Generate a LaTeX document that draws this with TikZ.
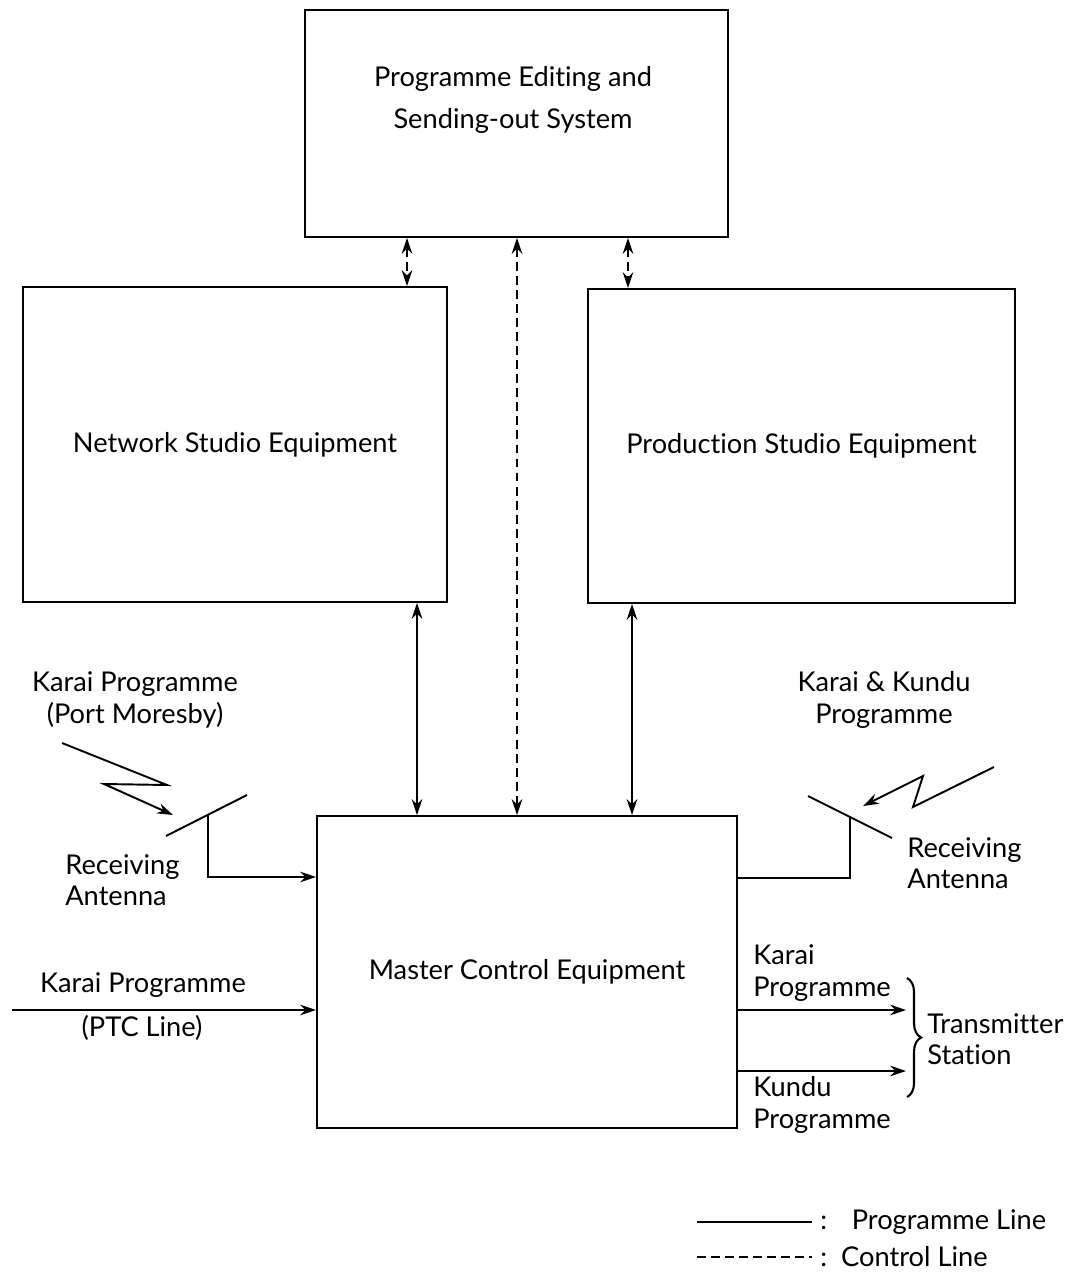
\documentclass[tikz,border=0pt]{standalone}
\usepackage{fontspec}
\setmainfont{Lato}[Ligatures=NoCommon]
\usetikzlibrary{positioning,calc,fit,arrows.meta,decorations.pathreplacing}

\tikzset{
  box/.style={draw, line width=1.1pt, inner sep=0pt},
  prog/.style={line width=1.1pt},
  ctrl/.style={line width=1.1pt, dash pattern=on 5pt off 3pt},
  tip/.style={-{Stealth[length=9pt,width=6pt]}},
  tips/.style={{Stealth[length=9pt,width=6pt]}-{Stealth[length=9pt,width=6pt]}},
  lbl/.style={font=\fontsize{15.5}{18}\selectfont, inner sep=0pt, align=center},
  lbll/.style={lbl, align=left, anchor=west}
}

\begin{document}
\begin{tikzpicture}[x=0.02cm, y=-0.02cm]
        \useasboundingbox (0,0) rectangle (1070,1283);

        \node[box, fit={(305,10) (728,237)}] (edit) {};
        \node[lbl] (edittxt) at (513,100) {Programme Editing and\\[6pt]Sending-out System};
        \node[box, fit={(23,287) (447,602)}] (net) {};
        \node[lbl] (nettxt) at (net) {Network Studio Equipment};
        \node[box, fit={(588,289) (1015,603)}] (prod) {};
        \node[lbl] (prodtxt) at (prod) {Production Studio Equipment};
        \node[box, fit={(317,816) (737,1128)}] (mce) {};
        \node[lbl] (mcetxt) at (mce) {Master Control Equipment};

        % control lines
        \coordinate (c1) at (407,0);
        \coordinate (c2) at (517,0);
        \coordinate (c3) at (628,0);
        \draw[ctrl, tips] (edit.south -| c1) -- (net.north -| c1);
        \draw[ctrl, tips] (edit.south -| c2) -- (mce.north -| c2);
        \draw[ctrl, tips] (edit.south -| c3) -- (prod.north -| c3);

        % programme lines
        \coordinate (p1) at (417,0);
        \coordinate (p2) at (632,0);
        \draw[prog, tips] (net.south -| p1) -- (mce.north -| p1);
        \draw[prog, tips] (prod.south -| p2) -- (mce.north -| p2);

        % left antenna
        \node[lbl] (portm) at (135,700) {Karai Programme\\(Port Moresby)};
        \coordinate (la1) at (166,836);
        \coordinate (la2) at (247,795);
        \coordinate (lfeed) at (208,815);
        \draw[prog] (la1) -- (la2);
        \draw[prog, tip] (lfeed) |- (mce.west |- 0,877);
        \draw[prog, tip] (62,743) -- (167,785) -- (104,784) -- (173,815);
        \node[lbll] (lrx) at (65,880) {Receiving\\Antenna};

        % right antenna
        \node[lbl] (kk) at (884,700) {Karai \& Kundu\\Programme};
        \coordinate (ra1) at (808,796);
        \coordinate (ra2) at (892,838);
        \coordinate (rfeed) at (850,817);
        \draw[prog] (ra1) -- (ra2);
        \draw[prog] (rfeed) |- (mce.east |- 0,878);
        \draw[prog, tip] (994,767) -- (913,807) -- (923,776) -- (863,806);
        \node[lbll] (rrx) at (907,863) {Receiving\\Antenna};

        % PTC line
        \coordinate (ptc) at (12,1010);
        \draw[prog, tip] (ptc) -- (mce.west |- ptc);
        \node[lbl] (ptc1) at (143,985) {Karai Programme};
        \node[lbl] (ptc2) at (142,1028) {(PTC Line)};

        % outputs
        \coordinate (o1) at (906,1010);
        \coordinate (o2) at (906,1071);
        \draw[prog, tip] (mce.east |- o1) -- (o1);
        \draw[prog, tip] (mce.east |- o2) -- (o2);
        \node[lbll] (kout) at (753,973) {Karai\\Programme};
        \node[lbll] (dout) at (753,1105) {Kundu\\Programme};
        \draw[line width=1.2pt, decorate, decoration={brace, amplitude=8pt}] (907,978) -- (907,1097);
        \node[lbll] (tx) at (927,1039) {Transmitter\\Station};

        % legend
        \draw[prog] (697,1222) -- (812,1222);
        \node[lbll] (leg1) at (820,1222) {:\hspace{14pt}Programme Line};
        \draw[ctrl] (697,1257) -- (812,1257);
        \node[lbll] (leg2) at (820,1257) {:\hspace{8pt}Control Line};
    \end{tikzpicture}
\end{document}
